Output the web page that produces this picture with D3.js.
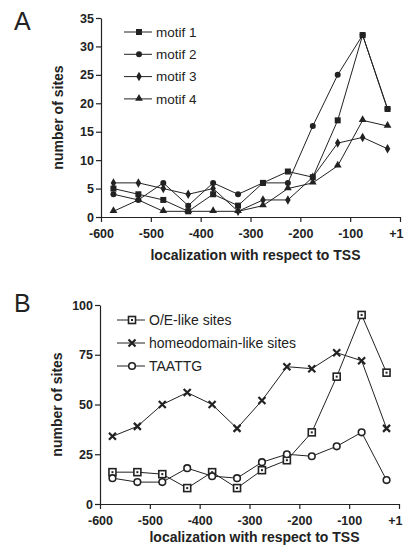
<!DOCTYPE html>
<html>
<head>
<meta charset="utf-8">
<script src="https://cdn.jsdelivr.net/npm/d3@7"></script>
<style>
  body { margin: 0; background: #fff; }
  svg { display: block; font-family: "Liberation Sans", Arial, sans-serif; }
</style>
</head>
<body>
<div id="chart"></div>
<script>
// bin centres (bp relative to TSS)
const positions = [-575, -525, -475, -425, -375, -325, -275, -225, -175, -125, -75, -25];
const xTicks = [-600, -500, -400, -300, -200, -100, 0];
const xTickLabels = ["-600", "-500", "-400", "-300", "-200", "-100", "+1"];

// panel A
const motif1 = [5, 4, 3, 1, 4, 2, 6, 8, 7, 17, 32, 19];
const motif2 = [4, 3, 6, 2, 6, 4, 6, 6, 16, 25, 32, 19];
const motif3 = [6, 6, 5, 4, 5, 1, 3, 3, 7, 13, 14, 12];
const motif4 = [1, 3, 1, 1, 1, 1, 2, 5, 6, 9, 17, 16];
const yTicksA = [0, 5, 10, 15, 20, 25, 30, 35];

// panel B
const oeSites = [16, 16, 15, 8, 16, 8, 17, 22, 36, 64, 95, 66];
const homeoSites = [34, 39, 50, 56, 50, 38, 52, 69, 68, 76, 72, 38];
const taattg = [13, 11, 11, 18, 14, 13, 21, 25, 24, 29, 36, 12];
const yTicksB = [0, 25, 50, 75, 100];

const ink = "#222";
const svg = d3.select("#chart").append("svg")
      .attr("width", 404)
      .attr("height", 546);

function drawMarker(g, shape, x, y) {
      if (shape === "square") {
            g.append("rect").attr("x", x - 3).attr("y", y - 3).attr("width", 6).attr("height", 6).attr("fill", ink);
      } else if (shape === "circle") {
            g.append("circle").attr("cx", x).attr("cy", y).attr("r", 3).attr("fill", ink);
      } else if (shape === "diamond") {
            g.append("path").attr("d", d3.symbol(d3.symbolDiamond, 26)()).attr("transform", `translate(${x},${y})`).attr("fill", ink);
      } else if (shape === "triangle") {
            g.append("path").attr("d", d3.symbol(d3.symbolTriangle, 26)()).attr("transform", `translate(${x},${y - 0.5})`).attr("fill", ink);
      } else if (shape === "osquare") {
            g.append("rect").attr("x", x - 3.5).attr("y", y - 3.5).attr("width", 7).attr("height", 7)
                  .attr("fill", "#fff").attr("stroke", ink).attr("stroke-width", 1.6);
            g.append("rect").attr("x", x - 1).attr("y", y - 1).attr("width", 2).attr("height", 2).attr("fill", ink);
      } else if (shape === "ocircle") {
            g.append("circle").attr("cx", x).attr("cy", y).attr("r", 3.3)
                  .attr("fill", "#fff").attr("stroke", ink).attr("stroke-width", 1.6);
      } else if (shape === "cross") {
            g.append("path").attr("d", `M${x - 3.5},${y - 3.5}L${x + 3.5},${y + 3.5}M${x - 3.5},${y + 3.5}L${x + 3.5},${y - 3.5}`)
                  .attr("stroke", ink).attr("stroke-width", 2.2);
      }
}

function drawPanel(opt) {
      const x = d3.scaleLinear().domain([-600, 0]).range([opt.left, opt.right]);
      const y = d3.scaleLinear().domain([0, opt.yMax]).range([opt.bottom, opt.top]);
      const g = svg.append("g");

      // axes
      const xAxis = g.append("g")
            .attr("transform", `translate(0,${opt.bottom})`)
            .call(d3.axisBottom(x).tickValues(xTicks).tickFormat((d, i) => xTickLabels[i]).tickSize(5).tickSizeOuter(0));
      const yAxis = g.append("g")
            .attr("transform", `translate(${opt.left},0)`)
            .call(d3.axisLeft(y).tickValues(opt.yTicks).tickSize(5).tickSizeOuter(0));
      [xAxis, yAxis].forEach(a => {
            a.select(".domain").attr("stroke", ink).attr("stroke-width", 1.2);
            a.selectAll(".tick line").attr("stroke", ink).attr("stroke-width", 1.2);
            a.selectAll(".tick text").attr("fill", ink).attr("font-size", 12.5).attr("font-weight", "bold")
                  .attr("font-family", "Liberation Sans, Arial, sans-serif");
      });
      xAxis.selectAll(".tick text").attr("dy", "1.05em");
      // keep the "+1" label inside the page edge
      xAxis.selectAll(".tick text").filter(d => d === 0).attr("text-anchor", "end").attr("x", 3);
      yAxis.selectAll(".tick text").attr("x", -7);

      g.append("text").attr("x", (opt.left + opt.right) / 2 + 5).attr("y", opt.bottom + opt.labelGap)
            .attr("text-anchor", "middle").attr("font-size", 14).attr("font-weight", "bold").attr("fill", ink)
            .text("localization with respect to TSS");
      g.append("text").attr("transform", `translate(${opt.left - 38},${(opt.top + opt.bottom) / 2}) rotate(-90)`)
            .attr("text-anchor", "middle").attr("font-size", 14).attr("font-weight", "bold").attr("fill", ink)
            .text("number of sites");
      g.append("text").attr("x", 14).attr("y", opt.letterY).attr("font-size", 25).attr("fill", ink).text(opt.letter);

      // series
      const line = d3.line().x((d, i) => x(positions[i])).y(d => y(d));
      opt.series.forEach(s => {
            g.append("path").datum(s.values).attr("d", line).attr("fill", "none").attr("stroke", ink).attr("stroke-width", 1);
      });
      opt.series.forEach(s => {
            s.values.forEach((v, i) => drawMarker(g, s.shape, x(positions[i]), y(v)));
      });

      // legend
      opt.series.forEach((s, i) => {
            const ly = opt.legendY + i * opt.legendStep;
            g.append("line").attr("x1", opt.legendX).attr("x2", opt.legendX + 28).attr("y1", ly).attr("y2", ly)
                  .attr("stroke", ink).attr("stroke-width", 1);
            drawMarker(g, s.shape, opt.legendX + 15, ly);
            g.append("text").attr("x", opt.legendX + 32).attr("y", ly).attr("dy", "0.35em")
                  .attr("font-size", opt.legendFont).attr("fill", ink).text(s.name);
      });
}

drawPanel({
      letter: "A", letterY: 30, left: 101, right: 400, top: 18, bottom: 217, yMax: 35, yTicks: yTicksA,
      labelGap: 43, legendX: 124, legendY: 32, legendStep: 22.3, legendFont: 13.5,
      series: [
            { name: "motif 1", values: motif1, shape: "square" },
            { name: "motif 2", values: motif2, shape: "circle" },
            { name: "motif 3", values: motif3, shape: "diamond" },
            { name: "motif 4", values: motif4, shape: "triangle" }
      ]
});

drawPanel({
      letter: "B", letterY: 312, left: 100, right: 399, top: 305, bottom: 504, yMax: 100, yTicks: yTicksB,
      labelGap: 38, legendX: 117, legendY: 320, legendStep: 23, legendFont: 14,
      series: [
            { name: "O/E-like sites", values: oeSites, shape: "osquare" },
            { name: "homeodomain-like sites", values: homeoSites, shape: "cross" },
            { name: "TAATTG", values: taattg, shape: "ocircle" }
      ]
});
</script>
</body>
</html>
